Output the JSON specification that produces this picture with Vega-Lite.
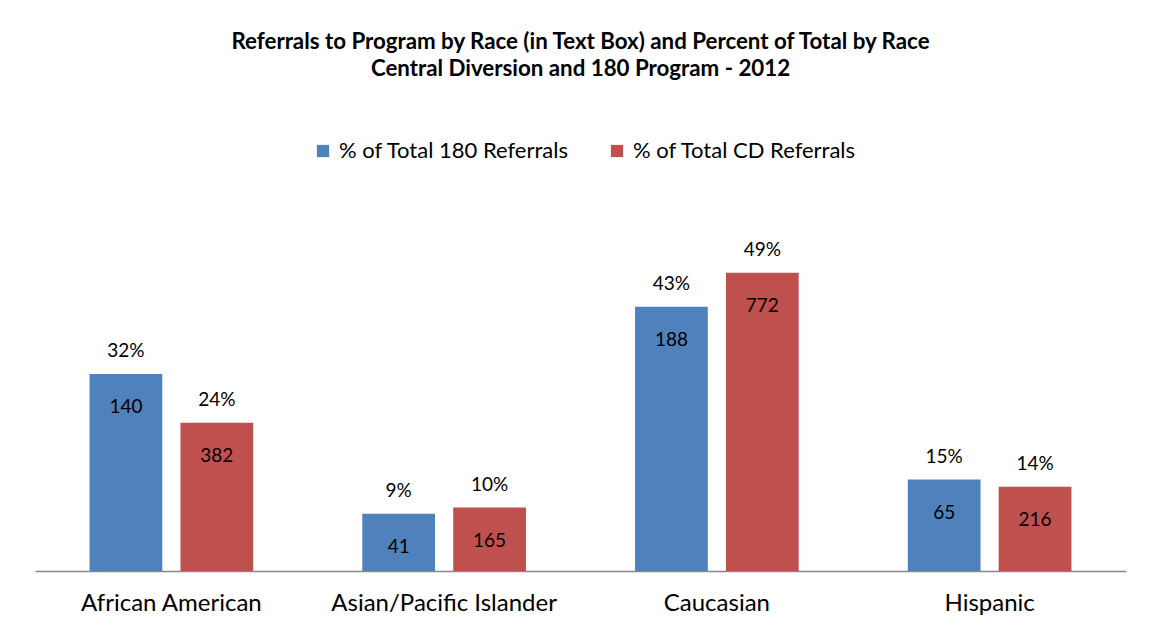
{
  "$schema": "https://vega.github.io/schema/vega-lite/v6.json",
  "width": 1091,
  "height": 366,
  "autosize": {"type": "none"},
  "padding": {"left": 35, "top": 205, "right": 25, "bottom": 66},
  "background": "white",
  "title": {
    "text": ["Referrals to Program by Race (in Text Box) and Percent of Total  by Race", "Central Diversion and 180 Program - 2012"],
    "font": "Lato",
    "fontSize": 22.3,
    "fontWeight": "bold",
    "color": "black",
    "anchor": "middle",
    "lineHeight": 27,
    "offset": 60
  },
  "data": {
    "values": [
      {"race": "African American", "series": "% of Total 180 Referrals", "pct": 0.323, "count": 140},
      {"race": "African American", "series": "% of Total CD Referrals", "pct": 0.243, "count": 382},
      {"race": "Asian/Pacific Islander", "series": "% of Total 180 Referrals", "pct": 0.094, "count": 41},
      {"race": "Asian/Pacific Islander", "series": "% of Total CD Referrals", "pct": 0.104, "count": 165},
      {"race": "Caucasian", "series": "% of Total 180 Referrals", "pct": 0.433, "count": 188},
      {"race": "Caucasian", "series": "% of Total CD Referrals", "pct": 0.489, "count": 772},
      {"race": "Hispanic", "series": "% of Total 180 Referrals", "pct": 0.150, "count": 65},
      {"race": "Hispanic", "series": "% of Total CD Referrals", "pct": 0.138, "count": 216}
    ]
  },
  "encoding": {
    "x": {
      "field": "race",
      "type": "nominal",
      "sort": ["African American", "Asian/Pacific Islander", "Caucasian", "Hispanic"],
      "scale": {"paddingInner": 0.4, "paddingOuter": 0.2},
      "axis": {
        "title": null,
        "labelAngle": 0,
        "labelFont": "Lato",
        "labelFontSize": 24,
        "labelColor": "black",
        "labelPadding": 20,
        "labelLimit": 400,
        "ticks": false,
        "domainColor": "#888888",
        "domainWidth": 1.5,
        "grid": false
      }
    },
    "xOffset": {
      "field": "series",
      "type": "nominal",
      "sort": ["% of Total 180 Referrals", "% of Total CD Referrals"],
      "scale": {"paddingInner": 0.2}
    },
    "y": {
      "field": "pct",
      "type": "quantitative",
      "scale": {"domain": [0, 0.6]},
      "axis": null
    }
  },
  "layer": [
    {
      "mark": {"type": "bar"},
      "encoding": {
        "color": {
          "field": "series",
          "type": "nominal",
          "sort": ["% of Total 180 Referrals", "% of Total CD Referrals"],
          "scale": {"range": ["#4F81BD", "#C0504D"]},
          "legend": {
            "title": null,
            "orient": "none",
            "legendX": 277,
            "legendY": -65,
            "direction": "horizontal",
            "symbolType": "square",
            "symbolSize": 150,
            "symbolStrokeWidth": 0,
            "labelFont": "Lato",
            "labelFontSize": 22,
            "labelColor": "black",
            "labelLimit": 400,
            "columnPadding": 36,
            "labelOffset": 5
          }
        }
      }
    },
    {
      "mark": {"type": "text", "baseline": "middle", "dy": -23, "font": "Lato", "fontSize": 19, "color": "black"},
      "encoding": {"text": {"field": "pct", "type": "quantitative", "format": ".0%"}}
    },
    {
      "mark": {"type": "text", "baseline": "middle", "dy": 33, "font": "Lato", "fontSize": 19, "color": "black"},
      "encoding": {
        "text": {"field": "count", "type": "quantitative"},
        "y": {"field": "pct", "type": "quantitative"}
      }
    }
  ],
  "config": {"view": {"stroke": null}}
}
